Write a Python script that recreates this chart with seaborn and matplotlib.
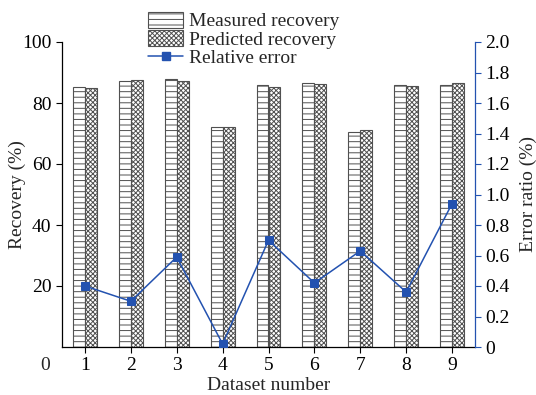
import matplotlib
matplotlib.use("Agg")
import matplotlib.pyplot as plt
import seaborn as sns
import numpy as np
import pandas as pd
from matplotlib.patches import Patch
from matplotlib.lines import Line2D

datasets = [1, 2, 3, 4, 5, 6, 7, 8, 9]
measured = [85.1, 87.2, 87.8, 72.1, 85.9, 86.4, 70.6, 86.0, 86.0]
predicted = [84.8, 87.4, 87.3, 72.1, 85.4, 86.1, 71.1, 85.6, 86.6]
rel_error = [0.40, 0.30, 0.59, 0.02, 0.70, 0.42, 0.63, 0.36, 0.94]
labels = ["Measured recovery", "Predicted recovery", "Relative error"]
left_ticks = [20, 40, 60, 80, 100]
right_ticks = [0, 0.2, 0.4, 0.6, 0.8, 1.0, 1.2, 1.4, 1.6, 1.8, 2.0]
right_ticklabels = ["0", "0.2", "0.4", "0.6", "0.8", "1.0", "1.2", "1.4", "1.6", "1.8", "2.0"]

sns.set_style("ticks")
plt.rcParams['font.family'] = ['Liberation Serif', 'DejaVu Serif']
plt.rcParams['hatch.linewidth'] = 0.7
plt.rcParams['hatch.color'] = '#505050'

blue = '#2352b0'
fs = 14

df = pd.DataFrame({
    "Dataset": datasets * 2,
    "Type": [labels[0]] * len(datasets) + [labels[1]] * len(datasets),
    "Recovery": measured + predicted,
})

fig = plt.figure(figsize=(5.36, 3.95), dpi=100)
ax = fig.add_axes([62/536, 48/395, 413/536, 305/395])

sns.barplot(data=df, x="Dataset", y="Recovery", hue="Type", ax=ax,
            palette={labels[0]: "white", labels[1]: "white"},
            width=0.52, edgecolor="#505050", linewidth=0.8, legend=False,
            saturation=1)
hatches = ["---", "xxxxxxx"]
for cont, h in zip(ax.containers, hatches):
    for p in cont:
        p.set_hatch(h)

ax.set_xlim(-0.5, 8.5)
ax.set_ylim(0, 100)
ax.set_yticks(left_ticks)
ax.set_xlabel("Dataset number", fontsize=fs, labelpad=2)
ax.set_ylabel("Recovery (%)", fontsize=fs)
ax.yaxis.set_label_coords(-0.086, 0.5)
ax.tick_params(axis='both', labelsize=fs, direction='out', length=4, width=0.8, colors='black')
ax.spines['top'].set_visible(False)
ax.spines['right'].set_visible(False)
for s in ['left', 'bottom']:
    ax.spines[s].set_linewidth(0.9)
    ax.spines[s].set_color('black')
ax.text(-0.041, -0.062, "0", transform=ax.transAxes, ha='center', va='center', fontsize=fs)

ax2 = ax.twinx()
sns.lineplot(x=np.arange(len(datasets)), y=rel_error, ax=ax2, color=blue,
             marker='s', markersize=6, markeredgecolor=blue, linewidth=1.1)
ax2.set_ylim(0, 2.0)
ax2.set_yticks(right_ticks)
ax2.set_yticklabels(right_ticklabels)
ax2.set_ylabel("Error ratio (%)", fontsize=fs)
ax2.yaxis.set_label_coords(1.109, 0.5)
ax2.tick_params(axis='y', labelsize=fs, direction='out', length=4, width=0.8, color=blue, labelcolor='black')
ax2.spines['top'].set_visible(False)
ax2.spines['left'].set_visible(False)
ax2.spines['bottom'].set_visible(False)
ax2.spines['right'].set_color(blue)
ax2.spines['right'].set_linewidth(0.9)
ax2.set_xlim(-0.5, 8.5)

handles = [
    Patch(facecolor='white', edgecolor='#505050', hatch=hatches[0], linewidth=0.8),
    Patch(facecolor='white', edgecolor='#505050', hatch=hatches[1], linewidth=0.8),
    Line2D([0], [0], color=blue, marker='s', markersize=6, linewidth=1.1),
]
fig.legend(handles, labels, loc='upper left', bbox_to_anchor=(148/536, 1 - 12/395),
           frameon=False, fontsize=fs, handlelength=1.8, handleheight=0.85,
           handletextpad=0.3, labelspacing=0.0, borderpad=0, borderaxespad=0)

fig.savefig("out.png", dpi=100)
